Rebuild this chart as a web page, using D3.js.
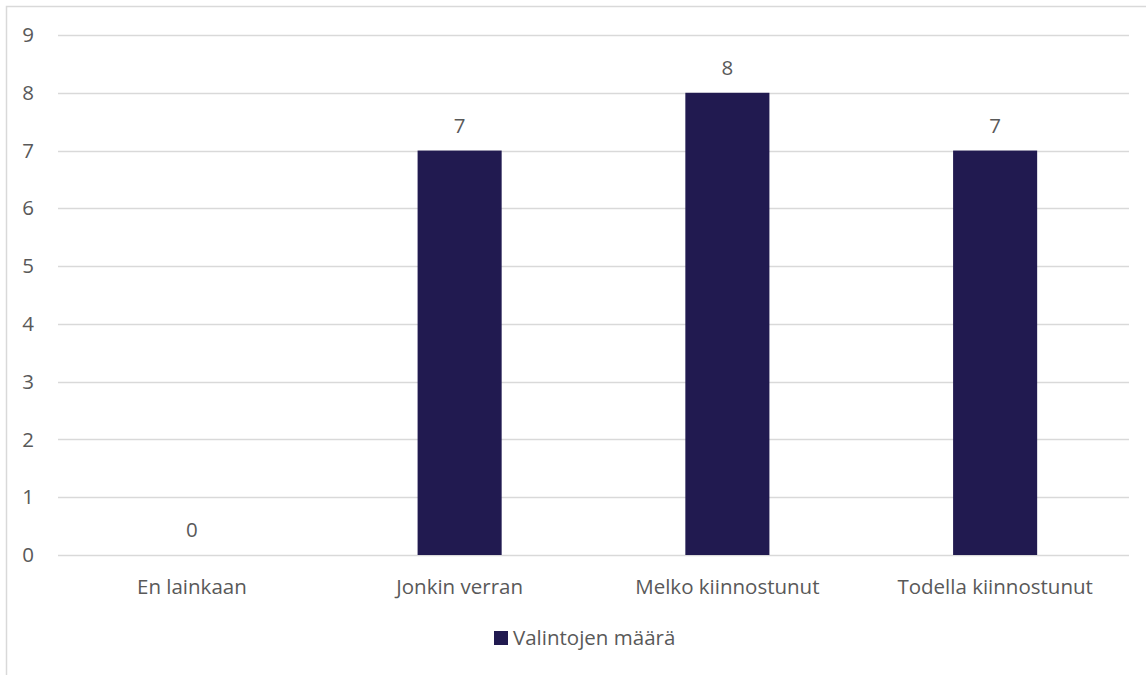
<!DOCTYPE html>
<html>
<head>
<meta charset="utf-8">
<script src="https://cdn.jsdelivr.net/npm/d3@7"></script>
<style>
  html, body { margin: 0; padding: 0; background: #fff; }
  svg { display: block; font-family: "Open Sans", "Liberation Sans", sans-serif; }
</style>
</head>
<body>
<svg id="chart" width="1146" height="675"></svg>
<script>
// Answer categories and number of selections
const categories = ["En lainkaan", "Jonkin verran", "Melko kiinnostunut", "Todella kiinnostunut"];
const counts = [0, 7, 8, 7];
const yTicks = [0, 1, 2, 3, 4, 5, 6, 7, 8, 9];
const seriesName = "Valintojen määrä";

const barColor = "#211a50";
const textColor = "#595959";
const gridColor = "#d9d9d9";
const fontSize = 20.5;

const svg = d3.select("#chart");

// Chart frame (extends past the visible area on the right and bottom)
svg.append("rect")
  .attr("x", 6.5).attr("y", 6.5)
  .attr("width", 1160).attr("height", 700)
  .attr("fill", "none")
  .attr("stroke", gridColor)
  .attr("stroke-width", 1.5);

const plot = { left: 58, right: 1129, top: 35, bottom: 555 };

const x = d3.scaleBand()
  .domain(categories)
  .range([plot.left, plot.right])
  .paddingInner(0.686)
  .paddingOuter(0.343);

const y = d3.scaleLinear()
  .domain([0, 9])
  .range([plot.bottom, plot.top]);

// Horizontal gridlines
svg.append("g")
  .selectAll("line")
  .data(yTicks)
  .join("line")
  .attr("x1", plot.left).attr("x2", plot.right)
  .attr("y1", d => Math.round(y(d)) + 0.5)
  .attr("y2", d => Math.round(y(d)) + 0.5)
  .attr("stroke", gridColor)
  .attr("stroke-width", 1.5);

// Y axis labels
const yAxis = d3.axisLeft(y).tickValues(yTicks).tickSize(0).tickPadding(0).tickFormat(d3.format("d"));
const yg = svg.append("g")
  .attr("transform", `translate(${plot.left - 24},0)`)
  .call(yAxis);
yg.select(".domain").remove();
yg.selectAll("text")
  .attr("fill", textColor)
  .attr("font-size", fontSize)
  .attr("font-family", "Open Sans, sans-serif");

// Bars
svg.append("g")
  .selectAll("rect")
  .data(categories.map((c, i) => ({ c, v: counts[i] })))
  .join("rect")
  .attr("x", d => x(d.c))
  .attr("y", d => y(d.v))
  .attr("width", x.bandwidth())
  .attr("height", d => y(0) - y(d.v))
  .attr("fill", barColor);

// Value labels above bars
svg.append("g")
  .selectAll("text")
  .data(categories.map((c, i) => ({ c, v: counts[i] })))
  .join("text")
  .attr("x", d => x(d.c) + x.bandwidth() / 2)
  .attr("y", d => y(d.v) - 25)
  .attr("dy", "0.35em")
  .attr("text-anchor", "middle")
  .attr("fill", textColor)
  .attr("font-size", fontSize)
  .text(d => d.v);

// Category axis labels
const xAxis = d3.axisBottom(x).tickSize(0).tickPadding(0);
const xg = svg.append("g")
  .attr("transform", `translate(0,${plot.bottom + 32})`)
  .call(xAxis);
xg.select(".domain").remove();
xg.selectAll("text")
  .attr("dy", "0.35em")
  .attr("fill", textColor)
  .attr("font-size", fontSize)
  .attr("font-family", "Open Sans, sans-serif");

// Legend
const legend = svg.append("g").attr("transform", "translate(494,631)");
legend.append("rect")
  .attr("width", 14).attr("height", 14)
  .attr("fill", barColor);
legend.append("text")
  .attr("x", 19).attr("y", 7)
  .attr("dy", "0.35em")
  .attr("fill", textColor)
  .attr("font-size", fontSize)
  .text(seriesName);
</script>
</body>
</html>
